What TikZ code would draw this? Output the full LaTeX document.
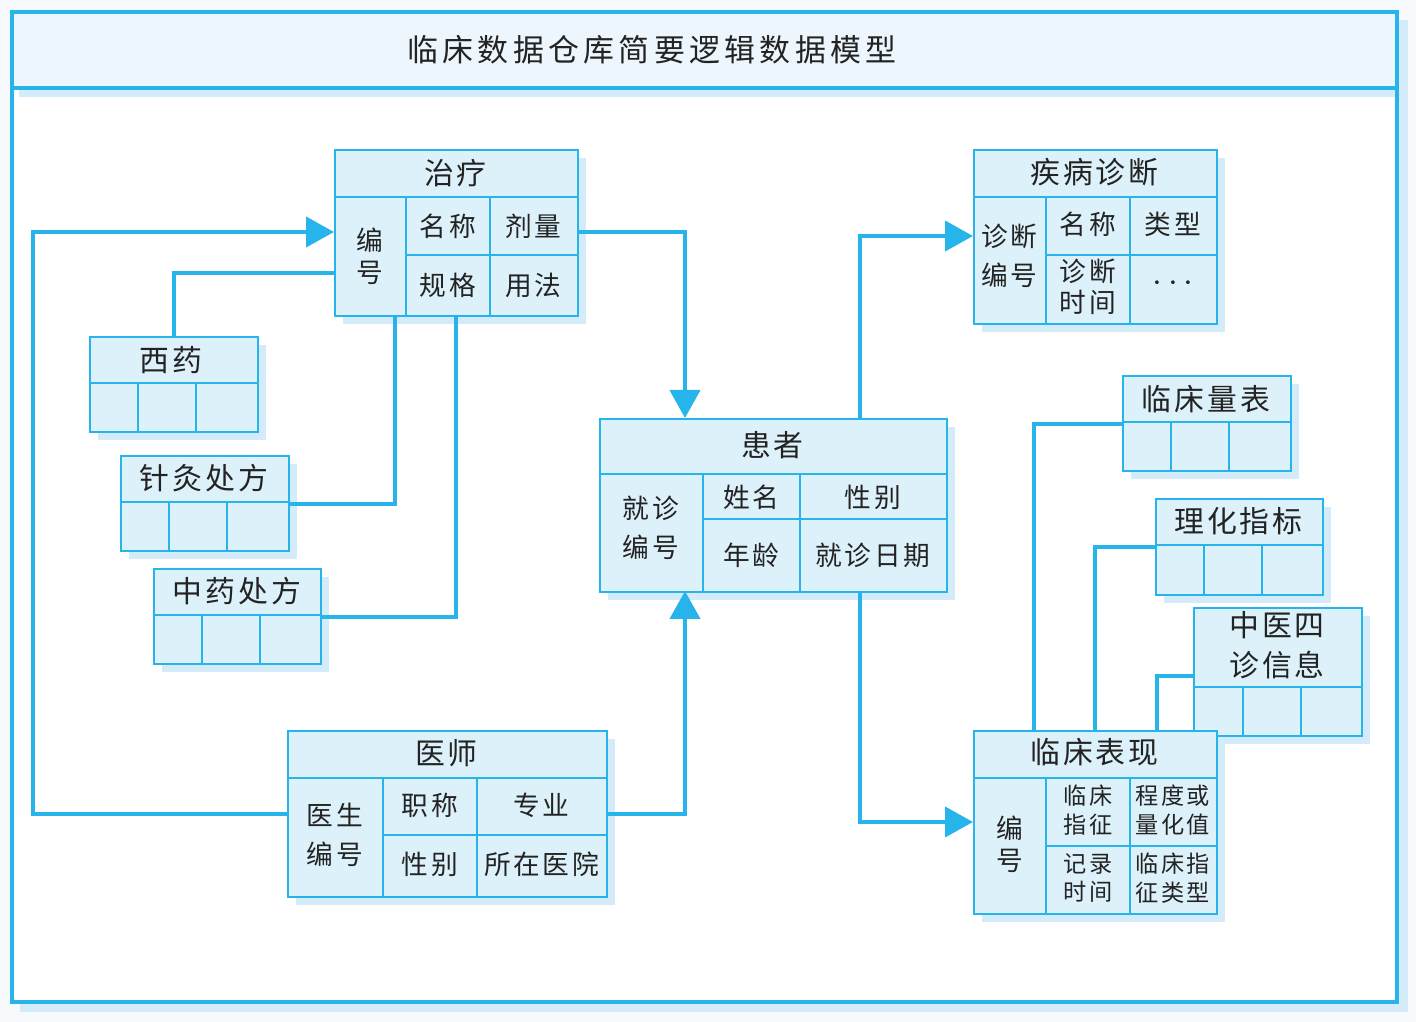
\documentclass[tikz,border=0pt]{standalone}
\usepackage{fontspec}
\newfontfamily\cjk[LetterSpace=10]{Noto Sans CJK SC}
\usetikzlibrary{arrows.meta}
\usetikzlibrary{shadows}

\tikzset{
	tab/.style={draw=lblue, fill=cblue, line width=0.7pt, inner sep=0pt, anchor=north west,
		drop shadow={fill=sblue, opacity=1, shadow xshift=0.08cm, shadow yshift=-0.08cm}},
	sep/.style={draw=lblue, line width=0.7pt},
	head/.style={font=\cjk\fontsize{8.5}{10}\selectfont, text=txt},
	cell/.style={font=\cjk\fontsize{7.6}{9}\selectfont, text=txt, align=center},
	cellw/.style={font=\cjk\fontsize{7.6}{11}\selectfont, text=txt, align=center},
	small/.style={font=\cjk\fontsize{6.6}{8.2}\selectfont, text=txt, align=center},
	link/.style={draw=lblue, line width=1.2pt},
	arr/.style={link, -{Triangle[length=0.28cm, width=0.30cm]}}
}

\begin{document}
\begin{tikzpicture}[x=1cm, y=-1cm]
% Colors
\definecolor{lblue}{RGB}{38,180,235}
\definecolor{cblue}{RGB}{221,241,251}
\definecolor{sblue}{RGB}{212,236,249}
\definecolor{tbar}{RGB}{236,246,252}
\definecolor{bg}{RGB}{246,250,253}
\definecolor{txt}{RGB}{35,35,35}

% Frame
\useasboundingbox (0,0) rectangle (14.16,10.22);
\fill[bg] (0,0) rectangle (14.16,10.22);
\fill[sblue] (0.20,0.20) rectangle (14.08,10.12);
\fill[white] (0.12,0.12) rectangle (13.97,10.02);
\fill[tbar] (0.12,0.12) rectangle (13.97,0.88);
\fill[sblue] (0.19,0.89) rectangle (13.97,0.97);
\draw[lblue, line width=0.9pt] (0.12,0.12) rectangle (13.97,10.02) (0.12,0.88) -- (13.97,0.88);
\node[font=\cjk\fontsize{8.8}{10}\selectfont\addfontfeature{LetterSpace=14}, text=txt] (title) at (6.52,0.50) {临床数据仓库简要逻辑数据模型};

% Connection points
\coordinate (zl-in) at (3.34,2.32);
\coordinate (zl-o1) at (5.77,2.32);
\coordinate (zl-o2) at (3.34,2.73);
\coordinate (zl-o3) at (3.95,3.15);
\coordinate (zl-o4) at (4.56,3.15);
\coordinate (hz-in1) at (6.85,4.18);
\coordinate (hz-in2) at (6.85,5.91);
\coordinate (hz-o1) at (8.60,4.18);
\coordinate (hz-o2) at (8.60,5.91);
\coordinate (jb-in) at (9.73,2.36);
\coordinate (lx-in) at (9.73,8.22);
\coordinate (lx-o1) at (10.34,7.30);
\coordinate (lx-o2) at (10.95,7.30);
\coordinate (lx-o3) at (11.57,7.30);
\coordinate (zx-in) at (11.93,6.76);

% Tables
% zhiliao
\node[tab, minimum width=2.43cm, minimum height=1.66cm] (zl) at (3.34,1.49) {};
\draw[sep] (3.34,1.97) -- (5.77,1.97) (4.06,1.97) -- (4.06,3.15) (4.90,1.97) -- (4.90,3.15) (4.06,2.55) -- (5.77,2.55);
\node[head] (zl-h) at (4.555,1.73) {治疗};
\node[cell] (zl-a) at (3.70,2.56) {编\\号};
\node[cell] (zl-b) at (4.48,2.26) {名称};
\node[cell] (zl-c) at (5.335,2.26) {剂量};
\node[cell] (zl-d) at (4.48,2.85) {规格};
\node[cell] (zl-e) at (5.335,2.85) {用法};

% xiyao, zhenjiu, zhongyao
\node[tab, minimum width=1.68cm, minimum height=0.95cm] (xy) at (0.89,3.36) {};
\draw[sep] (0.89,3.83) -- (2.57,3.83) (1.38,3.83) -- (1.38,4.31) (1.96,3.83) -- (1.96,4.31);
\node[head] (xy-h) at (1.71,3.60) {西药};
\node[tab, minimum width=1.68cm, minimum height=0.95cm] (zj) at (1.20,4.55) {};
\draw[sep] (1.20,5.02) -- (2.88,5.02) (1.69,5.02) -- (1.69,5.50) (2.27,5.02) -- (2.27,5.50);
\node[head] (zj-h) at (2.04,4.78) {针灸处方};
\node[tab, minimum width=1.67cm, minimum height=0.95cm] (zy) at (1.53,5.68) {};
\draw[sep] (1.53,6.15) -- (3.20,6.15) (2.02,6.15) -- (2.02,6.63) (2.60,6.15) -- (2.60,6.63);
\node[head] (zy-h) at (2.37,5.91) {中药处方};

% yishi
\node[tab, minimum width=3.19cm, minimum height=1.66cm] (ys) at (2.87,7.30) {};
\draw[sep] (2.87,7.78) -- (6.06,7.78) (3.83,7.78) -- (3.83,8.96) (4.77,7.78) -- (4.77,8.96) (3.83,8.35) -- (6.06,8.35);
\node[head] (ys-h) at (4.465,7.53) {医师};
\node[cellw] (ys-a) at (3.35,8.35) {医生\\编号};
\node[cell] (ys-b) at (4.30,8.05) {职称};
\node[cell] (ys-c) at (5.415,8.05) {专业};
\node[cell] (ys-d) at (4.30,8.64) {性别};
\node[cell] (ys-e) at (5.415,8.64) {所在医院};

% huanzhe
\node[tab, minimum width=3.47cm, minimum height=1.73cm] (hz) at (5.99,4.18) {};
\draw[sep] (5.99,4.74) -- (9.46,4.74) (7.03,4.74) -- (7.03,5.91) (8.00,4.74) -- (8.00,5.91) (7.03,5.19) -- (9.46,5.19);
\node[head] (hz-h) at (7.725,4.45) {患者};
\node[cellw] (hz-a) at (6.51,5.28) {就诊\\编号};
\node[cell] (hz-b) at (7.515,4.97) {姓名};
\node[cell] (hz-c) at (8.73,4.97) {性别};
\node[cell] (hz-d) at (7.515,5.55) {年龄};
\node[cell] (hz-e) at (8.73,5.55) {就诊日期};

% jibing zhenduan
\node[tab, minimum width=2.43cm, minimum height=1.74cm] (jb) at (9.73,1.49) {};
\draw[sep] (9.73,1.97) -- (12.16,1.97) (10.46,1.97) -- (10.46,3.23) (11.30,1.97) -- (11.30,3.23) (10.46,2.55) -- (12.16,2.55);
\node[head] (jb-h) at (10.945,1.72) {疾病诊断};
\node[cellw] (jb-a) at (10.095,2.56) {诊断\\编号};
\node[cell] (jb-b) at (10.88,2.24) {名称};
\node[cell] (jb-c) at (11.73,2.24) {类型};
\node[cell] (jb-d) at (10.88,2.87) {诊断\\时间};
\node[text=txt] (jb-e) at (11.73,2.84) {$\cdots$};

% linchuang liangbiao, lihua zhibiao, zhongyi sizhen
\node[tab, minimum width=1.68cm, minimum height=0.95cm] (lb) at (11.22,3.75) {};
\draw[sep] (11.22,4.22) -- (12.90,4.22) (11.71,4.22) -- (11.71,4.70) (12.29,4.22) -- (12.29,4.70);
\node[head] (lb-h) at (12.06,3.99) {临床量表};
\node[tab, minimum width=1.67cm, minimum height=0.96cm] (lh) at (11.55,4.98) {};
\draw[sep] (11.55,5.45) -- (13.22,5.45) (12.04,5.45) -- (12.04,5.94) (12.62,5.45) -- (12.62,5.94);
\node[head] (lh-h) at (12.385,5.21) {理化指标};
\node[tab, minimum width=1.68cm, minimum height=1.28cm] (zx) at (11.93,6.07) {};
\draw[sep] (11.93,6.87) -- (13.61,6.87) (12.43,6.87) -- (12.43,7.35) (13.01,6.87) -- (13.01,7.35);
\node[head, align=center, font=\cjk\fontsize{8.5}{11.5}\selectfont] (zx-h) at (12.77,6.45) {中医四\\诊信息};

% linchuang biaoxian
\node[tab, minimum width=2.43cm, minimum height=1.83cm] (lx) at (9.73,7.30) {};
\draw[sep] (9.73,7.78) -- (12.16,7.78) (10.46,7.78) -- (10.46,9.13) (11.30,7.78) -- (11.30,9.13) (10.46,8.46) -- (12.16,8.46);
\node[head] (lx-h) at (10.945,7.52) {临床表现};
\node[cell] (lx-a) at (10.10,8.44) {编\\号};
\node[small] (lx-b) at (10.88,8.10) {临床\\指征};
\node[small] (lx-c) at (11.73,8.10) {程度或\\量化值};
\node[small] (lx-d) at (10.88,8.78) {记录\\时间};
\node[small] (lx-e) at (11.73,8.78) {临床指\\征类型};

% Connections
\draw[arr] (ys.west) -- ++(-2.54,0) |- (zl-in);
\draw[link] (zl-o2) -| (xy.north);
\draw[link] (zl-o3) |- (zj.east);
\draw[link] (zl-o4) |- (zy.east);
\draw[arr] (zl-o1) -| (hz-in1);
\draw[arr] (ys.east) -| (hz-in2);
\draw[arr] (hz-o1) |- (jb-in);
\draw[arr] (hz-o2) |- (lx-in);
\draw[link] (lx-o1) |- (lb.west);
\draw[link] (lx-o2) |- (lh.west);
\draw[link] (lx-o3) |- (zx-in);
\end{tikzpicture}
\end{document}
